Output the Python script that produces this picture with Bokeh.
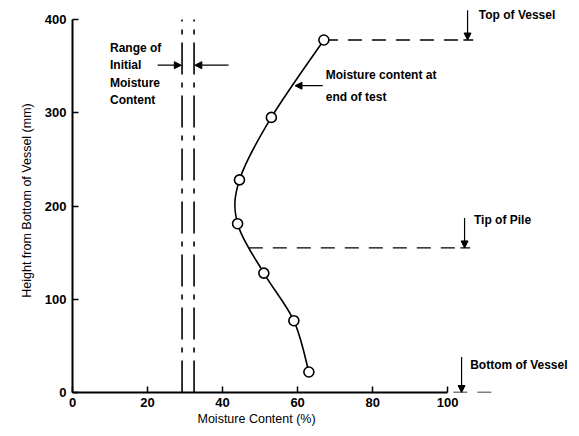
from bokeh.plotting import figure
from bokeh.models import (Range1d, Label, Arrow, NormalHead, FixedTicker, ColumnDataSource,
                          Title)
from bokeh.embed import file_html
from bokeh.resources import INLINE

# ---- data ----
moisture = [63, 59, 51, 44, 44.5, 53, 67]          # % moisture at end of test
height = [22, 77, 128, 181, 228, 295, 378]          # mm from bottom of vessel
initial_range = [29.2, 32.4]                        # range of initial moisture content (%)
top_of_vessel = 378
tip_of_pile = 155
bottom_of_vessel = 0
x_ticks = [0, 20, 40, 60, 80, 100]
y_ticks = [0, 100, 200, 300, 400]

FONT = "Liberation Sans"

p = figure(width=571, height=428, output_backend="svg", toolbar_location=None,
           x_range=Range1d(0, 133), y_range=Range1d(0, 411.8),
           min_border_left=72, min_border_right=0, min_border_top=8, min_border_bottom=36)
p.outline_line_color = None
p.xgrid.grid_line_color = None
p.ygrid.grid_line_color = None
p.background_fill_color = "white"

for ax, ticks in ((p.xaxis[0], x_ticks), (p.yaxis[0], y_ticks)):
    ax.ticker = FixedTicker(ticks=ticks)
    ax.bounds = (ticks[0], ticks[-1])
    ax.axis_line_width = 2
    ax.axis_line_color = "black"
    ax.major_tick_in = 6
    ax.major_tick_out = 0
    ax.major_tick_line_width = 1.5
    ax.minor_tick_line_color = None
    ax.major_label_text_font = FONT
    ax.major_label_text_font_size = "13px"
    ax.major_label_text_font_style = "bold"
    ax.major_label_text_color = "black"
    ax.axis_label_text_font = FONT
    ax.axis_label_text_font_size = "12.5px"
    ax.axis_label_text_font_style = "normal"
    ax.axis_label_text_color = "black"
p.yaxis.axis_label = "Height from Bottom of Vessel (mm)"
p.xaxis.major_label_standoff = 5
p.yaxis.major_label_standoff = 6
p.yaxis.axis_label_standoff = 8

# x-axis title centred under the axis span (0-100)
p.add_layout(Title(text="Moisture Content (%)", align="left", offset=125, standoff=0,
                   text_font=FONT, text_font_size="12.5px", text_font_style="normal",
                   text_color="black"), "below")

# ---- initial moisture range (dash-dot verticals) ----
for xv in initial_range:
    p.segment(x0=[xv], y0=[0], x1=[xv], y1=[y_ticks[-1]], line_color="black",
              line_width=1.6, line_dash="32 8 5 8")

# ---- reference dashed lines ----
dash = dict(line_color="black", line_width=1.3, line_dash="14 10")
p.segment(x0=[moisture[-1]], y0=[top_of_vessel], x1=[105.3], y1=[top_of_vessel], **dash)
p.segment(x0=[47], y0=[tip_of_pile], x1=[104.5], y1=[tip_of_pile], **dash)
p.segment(x0=[101.5], y0=[bottom_of_vessel], x1=[113], y1=[bottom_of_vessel], **dash)
# small end ticks
p.segment(x0=[104.2, 103.4], y0=[top_of_vessel, tip_of_pile], x1=[106.8, 106.0],
          y1=[top_of_vessel, tip_of_pile], line_color="black", line_width=1.3)

# ---- smooth curve through points (Catmull-Rom -> Bezier) ----
n = len(moisture)
x0s, y0s, x1s, y1s, cx0s, cy0s, cx1s, cy1s = ([] for _ in range(8))
for i in range(n - 1):
    pa = (moisture[max(i - 1, 0)], height[max(i - 1, 0)])
    p0 = (moisture[i], height[i])
    p1 = (moisture[i + 1], height[i + 1])
    pb = (moisture[min(i + 2, n - 1)], height[min(i + 2, n - 1)])
    x0s.append(p0[0]); y0s.append(p0[1]); x1s.append(p1[0]); y1s.append(p1[1])
    cx0s.append(p0[0] + (p1[0] - pa[0]) / 6); cy0s.append(p0[1] + (p1[1] - pa[1]) / 6)
    cx1s.append(p1[0] - (pb[0] - p0[0]) / 6); cy1s.append(p1[1] - (pb[1] - p0[1]) / 6)
p.bezier(x0=x0s, y0=y0s, x1=x1s, y1=y1s, cx0=cx0s, cy0=cy0s, cx1=cx1s, cy1=cy1s,
         line_color="black", line_width=1.6)

src = ColumnDataSource(dict(x=moisture, y=height))
p.scatter("x", "y", source=src, size=10, fill_color="white", line_color="black",
          line_width=1.6)

# ---- labels ----
def lab(x, y, t, align="left"):
    p.add_layout(Label(x=x, y=y, text=t, text_font=FONT, text_font_size="12px",
                       text_font_style="bold", text_baseline="middle", text_align=align,
                       text_color="black"))

for t, yy in zip(["Range of", "Initial", "Moisture", "Content"], [369, 351, 332, 313.5]):
    lab(10, yy, t)
lab(67.5, 340, "Moisture content at")
lab(67.5, 316.5, "end of test")
lab(108.3, 404.5, "Top of Vessel")
lab(107, 184.5, "Tip of Pile")
lab(106, 30, "Bottom of Vessel")

# ---- arrows ----
def arr(xs, ys, xe, ye):
    p.add_layout(Arrow(x_start=xs, y_start=ys, x_end=xe, y_end=ye, line_width=1.2,
                       line_color="black",
                       end=NormalHead(size=7, fill_color="black", line_color="black")))

arr(22.7, 351, initial_range[0] - 0.2, 351)
arr(41.6, 351, initial_range[1] + 0.2, 351)
arr(66.7, 329, 59.3, 329)
arr(105.3, 410, 105.3, top_of_vessel)
arr(104.5, 187, 104.5, tip_of_pile)
arr(103.7, 38, 103.7, bottom_of_vessel)

open("out.html", "w").write(file_html(p, INLINE))
